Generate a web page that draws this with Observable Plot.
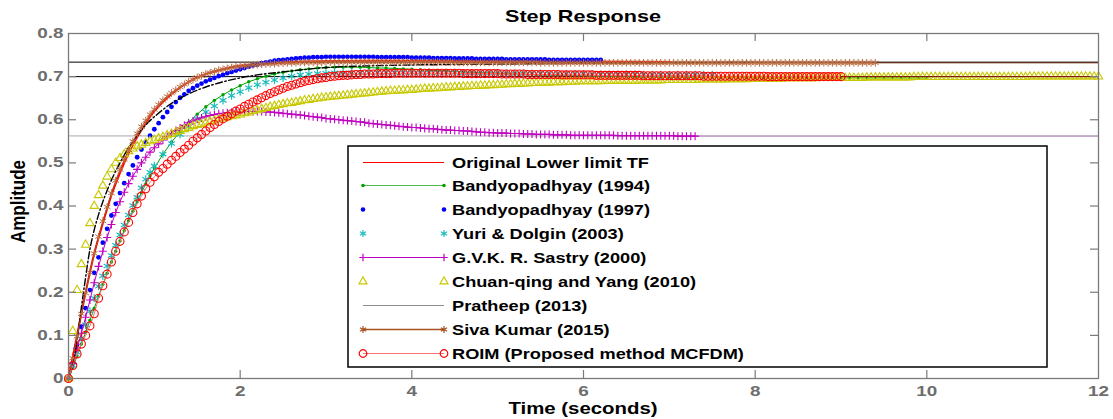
<!DOCTYPE html>
<html>
<head>
<meta charset="utf-8">
<script src="https://cdn.jsdelivr.net/npm/d3@7"></script>
<script src="https://cdn.jsdelivr.net/npm/@observablehq/plot@0.6"></script>
<style>
  html, body { margin: 0; padding: 0; background: #ffffff; }
  #chart svg { display: block; }
</style>
</head>
<body>
<div id="chart"></div>
<script>
// ---- Step-response samples (amplitude), one array per model ----
// Densely sampled models: one value every 0.05 s from t = 0.
const roim = [
  0,.03,.057,.08,.1,.122,.15,.186,.215,.242,.27,.295,.318,.34,.362,.385,.405,.423,.44,.455,
  .468,.478,.487,.497,.506,.515,.524,.532,.541,.55,.558,.566,.574,.582,.589,.596,.602,.608,.614,.62,
  .625,.631,.636,.641,.646,.651,.656,.661,.665,.669,.673,.677,.68,.683,.686,.689,.691,.693,.695,.697,
  .698,.7,.701,.702,.703,.703,.704,.705,.705,.706,.706,.706,.707,.707,.707,.707,.708,.708,.708,.708,
  .708,.708,.708,.708,.708,.708,.708,.708,.708,.708,.708,.708,.707,.707,.707,.707,.707,.707,.707,.707,
  .707,.706,.706,.706,.706,.706,.706,.705,.705,.705,.705,.705,.705,.705,.705,.704,.704,.704,.704,.704,
  .704,.704,.704,.703,.703,.703,.703,.703,.703,.703,.703,.703,.703,.703,.702,.702,.702,.702,.702,.702,
  .702,.702,.702,.702,.702,.702,.702,.702,.701,.701,.701,.701,.701,.701,.701,.701,.701,.701,.701,.701,
  .701,.701,.701,.700,.700,.700,.700,.700,.700,.700,.700,.700,.700,.700,.700,.700,.700,.700,.700,.700,
  .700];

const bandyo1997 = [
  0,.035,.078,.12,.163,.205,.245,.281,.315,.347,.378,.405,.43,.453,.474,.494,.513,.531,.548,.563,
  .578,.592,.606,.618,.63,.641,.651,.659,.667,.673,.679,.684,.689,.693,.697,.701,.704,.708,.711,.714,
  .717,.72,.723,.726,.728,.731,.733,.735,.737,.738,.739,.74,.741,.742,.743,.744,.744,.745,.745,.745,
  .746,.746,.746,.746,.746,.746,.746,.746,.746,.746,.746,.746,.745,.745,.745,.745,.745,.745,.745,.745,
  .744,.744,.744,.744,.744,.743,.743,.743,.743,.743,.742,.742,.742,.742,.742,.741,.741,.741,.741,.741,
  .741,.741,.740,.740,.740,.740,.740,.740,.740,.740,.740,.740,.739,.739,.739,.739,.739,.739,.739,.739,
  .739,.739,.739,.739,.739];

const sastry = [
  0,.035,.07,.105,.142,.182,.222,.26,.295,.327,.357,.385,.41,.432,.452,.469,.485,.5,.513,.525,
  .535,.544,.553,.561,.568,.575,.581,.587,.593,.597,.601,.604,.607,.61,.612,.614,.615,.616,.617,.618,
  .618,.619,.619,.619,.619,.619,.618,.618,.617,.616,.615,.614,.613,.612,.611,.61,.608,.607,.606,.605,
  .603,.602,.601,.6,.599,.598,.597,.596,.595,.594,.592,.591,.59,.589,.588,.587,.586,.585,.584,.583,
  .582,.582,.581,.58,.579,.579,.578,.577,.576,.576,.575,.575,.574,.574,.573,.572,.571,.571,.570,.570,
  .569,.569,.569,.568,.568,.568,.567,.567,.567,.566,.566,.566,.566,.565,.565,.565,.565,.564,.564,.564,
  .564,.564,.564,.564,.564,.564,.564,.564,.563,.563,.563,.563,.563,.563,.563,.563,.563,.563,.563,.563,
  .563,.563,.562,.562,.562,.562,.562];

const chuanYang = [
  0,.11,.205,.265,.31,.36,.40,.425,.447,.468,.485,.5,.511,.52,.527,.533,.538,.542,.546,.55,
  .553,.557,.56,.564,.567,.571,.574,.578,.581,.585,.588,.59,.593,.596,.598,.601,.603,.606,.608,.61,
  .612,.615,.617,.62,.622,.625,.627,.63,.632,.634,.636,.638,.639,.641,.643,.645,.646,.648,.649,.651,
  .652,.653,.654,.655,.656,.657,.658,.659,.66,.661,.662,.663,.664,.665,.666,.667,.667,.668,.668,.669,
  .669,.67,.671,.672,.672,.673,.673,.674,.675,.675,.676,.676,.677,.677,.678,.678,.679,.679,.68,.68,
  .681,.681,.682,.682,.683,.683,.684,.684,.685,.685,.686,.686,.686,.687,.687,.687,.688,.688,.688,.689,
  .689,.689,.689,.689,.689,.69,.69,.69,.69,.69,.69,.69,.69,.691,.691,.691,.691,.691,.691,.692,
  .692,.692,.692,.692,.692,.692,.692,.693,.693,.693,.693,.693,.693,.693,.694,.694,.694,.694,.694,.695,
  .695,.695,.695,.695,.695,.695,.695,.696,.696,.696,.696,.696,.696,.696,.696,.697,.697,.697,.697,.697,
  .697,.697,.697,.697,.697,.697,.698,.698,.698,.698,.698,.698,.698,.698,.698,.698,.698,.699,.699,.699,
  .699,.699,.699,.699,.699,.699,.699,.699,.699,.699,.699,.699,.699,.699,.699,.699,.699,.699,.699,.699,
  .699,.699,.699,.699,.7,.7,.7,.7,.7,.7,.7,.7,.7,.7,.7,.7,.7,.7,.7,.7,
  .7];

const sivaKumar = [
  0,.047,.098,.15,.198,.246,.29,.329,.365,.398,.43,.459,.485,.508,.53,.55,.568,.584,.598,.612,
  .624,.635,.645,.654,.662,.669,.676,.682,.688,.693,.698,.702,.706,.709,.712,.715,.717,.719,.721,.723,
  .724,.725,.726,.727,.728,.729,.729,.73,.73,.731,.731,.732,.732,.732,.733,.733,.733,.733,.733,.733,
  .734,.734,.734,.734,.734,.734,.734,.734,.734,.734,.734,.734,.734,.734,.734,.734,.734,.734,.734,.734,
  .734,.734,.734,.734,.734,.734,.734,.734,.734,.734,.733,.733,.733,.733,.733,.733,.733,.733,.733,.733,
  .733,.733,.733,.733,.733,.733,.733,.733,.733,.733,.732,.732,.732,.732,.732,.732,.732,.732,.732,.732,
  .732,.732,.732,.732,.732,.732,.732,.732,.732,.732,.732,.732,.732,.732,.732,.732,.732,.732,.732,.732,
  .732,.732,.732,.732,.732,.732,.732,.732,.732,.732,.732,.732,.732,.732,.732,.732,.732,.732,.732,.732,
  .732,.732,.732,.732,.732,.732,.732,.732,.732,.732,.732,.732,.732,.732,.732,.732,.732,.732,.732,.732,
  .732,.732,.732,.732,.732,.732,.732,.732,.732];

// Lighter-sampled models: every 0.05 s up to 1 s, then every 0.1 s.
const bandyo1994 = [0,.025,.052,.08,.108,.135,.163,.191,.218,.244,.27,.295,.319,.343,.366,.388,.41,.431,.451,.47,.488,
  .52,.548,.572,.594,.613,.63,.645,.658,.669,.679,
  .688,.695,.701,.706,.71,.713,.716,.718,.72,.721,
  .722,.722,.722,.722,.721,.72,.72,.719,.718,.717,
  .716,.715,.714,.713,.712,.711,.71,.709,.709,.708,
  .707,.706,.706,.705,.704,.704,.703,.703,.702,.702,
  .701,.701,.700,.700,.700,.699,.699,.699,.699,.698,
  .698,.698,.698,.698,.698,.698,.698,.698,.698,.698,
  .697,.697,.697,.697,.697,.697,.697,.697,.697,.697,
  .697,.697,.697,.697,.697,.697,.697,.697,.697,.697];

const yuriDolgin = [0,.03,.061,.092,.124,.156,.186,.214,.238,.261,.285,.309,.333,.356,.379,.401,.42,.442,.462,.478,.493,
  .52,.545,.566,.585,.602,.618,.632,.645,.656,.665,
  .674,.681,.687,.692,.697,.701,.704,.706,.707,.708,
  .709,.709,.709,.709,.709,.709,.709,.709,.709,.709,
  .709,.709,.709,.709,.709,.708,.708,.708,.708,.708,
  .707,.707,.707,.707,.707,.706,.706,.706,.706,.706,
  .705,.705,.705,.705,.705,.705,.704,.704,.704,.704,
  .704,.704,.704,.704,.704];

// Line-only curves, given as (time, amplitude) pairs
const originalT = [0,0.1,0.2,0.3,0.4,0.5,0.6,0.7,0.8,1.0,1.2,1.4,1.6,1.8,2.0,2.5,3.0,3.5,4,5,6,7];
const originalV = [0,0.1,0.2,0.29,0.36,0.425,0.477,0.522,0.56,0.62,0.66,0.688,0.706,0.717,0.725,0.733,0.736,0.737,0.737,0.736,0.735,0.734];
const pratheepT = [0,0.05,0.1,0.15,0.2,0.25,0.3,0.35,0.4,0.5,0.6,0.7,0.8,0.9,1.0,1.2,1.4,1.6,1.8,2.0,2.2,2.5,3.0,3.5,4,5,6,7,8];
const pratheepV = [0,0.03,0.09,0.165,0.235,0.3,0.345,0.38,0.41,0.46,0.5,0.535,0.563,0.588,0.607,0.638,0.66,0.676,0.688,0.697,0.704,0.711,0.721,0.725,0.727,0.729,0.731,0.732,0.733];

// Steady-state reference levels
const upperLevel = 0.7336;
const lowerLevel = 0.70;
const sastryLevel = 0.5625;

// Axis ticks and labels
const xTicks = [0, 2, 4, 6, 8, 10, 12];
const yTicks = [0, 0.1, 0.2, 0.3, 0.4, 0.5, 0.6, 0.7, 0.8];
const legendLabels = [
  "Original Lower limit TF",
  "Bandyopadhyay (1994)",
  "Bandyopadhyay (1997)",
  "Yuri & Dolgin (2003)",
  "G.V.K. R. Sastry (2000)",
  "Chuan-qing and Yang (2010)",
  "Pratheep (2013)",
  "Siva Kumar (2015)",
  "ROIM (Proposed method MCFDM)"
];
const titleText = "Step Response";
const xLabel = "Time (seconds)";
const yLabel = "Amplitude";

// ---- sampling grids ----
const fineStep = 0.05, coarseStep = 0.1;
const dense = values => values.map((v, i) => ({t: +(i * fineStep).toFixed(2), v}));
const mixed = (values, fineCount = 20) => values.map((v, i) => ({
  t: +(i <= fineCount ? i * fineStep : fineCount * fineStep + (i - fineCount) * coarseStep).toFixed(2), v
}));
const pairs = (ts, vs) => ts.map((t, i) => ({t, v: vs[i]}));
const last = rows => rows[rows.length - 1];

const roimRows = dense(roim);
const b97Rows = dense(bandyo1997);
const sastryRows = dense(sastry);
const chuanRows = dense(chuanYang);
const sivaRows = dense(sivaKumar);
const b94Rows = mixed(bandyo1994);
const yuriRows = mixed(yuriDolgin);
const originalRows = pairs(originalT, originalV);
const pratheepRows = pairs(pratheepT, pratheepV);

// ---- colours ----
const C = {
  red: "#ff0000", green: "#00a000", blue: "#0000ff", cyan: "#20bcbc",
  magenta: "#c000c0", yellow: "#c8c800", black: "#000000", brown: "#a8501e", grey: "#8c8c8c"
};

const W = 1113, H = 419;
const M = {top: 33, right: 15, bottom: 41, left: 68};
const plotW = W - M.left - M.right, plotH = H - M.top - M.bottom;
const tick = 8;
const axisGrey = "#7a7a7a";
const tMax = 12;

// a line that carries a model on at its last value to the end of the time axis
const settleTail = (rows, stroke) =>
  Plot.ruleY([last(rows)], {y: "v", x1: "t", x2: () => tMax, stroke, strokeWidth: 1});

const chart = Plot.plot({
  width: W, height: H,
  marginTop: M.top, marginRight: M.right, marginBottom: M.bottom, marginLeft: M.left,
  x: {domain: [0, tMax]},
  y: {domain: [0, 0.8]},
  style: {fontFamily: "Arial, 'Liberation Sans', sans-serif", fontSize: "14px", fontWeight: "bold", background: "#ffffff", overflow: "visible"},
  marks: [
    // steady-state levels
    Plot.ruleY([upperLevel, lowerLevel], {stroke: C.black, strokeWidth: 1}),
    Plot.ruleY([sastryLevel], {stroke: "#a8a8a8", strokeWidth: 1}),

    // Original lower-limit transfer function: solid red
    Plot.line(originalRows, {x: "t", y: "v", curve: "catmull-rom", stroke: C.red, strokeWidth: 2}),
    // Bandyopadhyay (1994): green dots joined by a line
    Plot.line(b94Rows, {x: "t", y: "v", stroke: C.green, strokeWidth: 1}),
    Plot.dot(b94Rows, {x: "t", y: "v", r: 1.7, fill: C.green}),
    // Bandyopadhyay (1997): blue dots
    Plot.dot(b97Rows, {x: "t", y: "v", r: 2.4, fill: C.blue}),
    // Yuri & Dolgin: cyan asterisks
    Plot.dot(yuriRows, {x: "t", y: "v", symbol: "asterisk", r: 3.8, stroke: C.cyan, strokeWidth: 1.2}),
    // Sastry: magenta plus signs on a line that carries on at its final value
    Plot.line(sastryRows, {x: "t", y: "v", stroke: C.magenta, strokeWidth: 1}),
    settleTail(sastryRows, "#b48cc0"),
    Plot.dot(sastryRows, {x: "t", y: "v", symbol: "plus", r: 2.7, stroke: C.magenta, strokeWidth: 1.1}),
    // Chuan-qing and Yang: open yellow triangles
    Plot.dot(chuanRows, {x: "t", y: "v", symbol: "triangle2", r: 4, stroke: C.yellow, fill: "none", strokeWidth: 1.1}),
    // Pratheep: black dash-dot
    Plot.line(pratheepRows, {x: "t", y: "v", curve: "catmull-rom", stroke: C.black, strokeWidth: 1.4, strokeDasharray: "7,2.5,1.5,2.5"}),
    // Siva Kumar: brown asterisks on a line
    Plot.line(sivaRows, {x: "t", y: "v", stroke: C.brown, strokeWidth: 1}),
    settleTail(sivaRows, "#6a2408"),
    Plot.dot(sivaRows, {x: "t", y: "v", symbol: "asterisk", r: 3.6, stroke: "#bc6c40", strokeWidth: 1}),
    // ROIM: open red circles on a light red line
    Plot.line(roimRows, {x: "t", y: "v", stroke: "#ff7070", strokeWidth: 1}),
    settleTail(roimRows, "#8a1010"),
    Plot.dot(roimRows, {x: "t", y: "v", r: 4, stroke: C.red, fill: "none", strokeWidth: 1.1}),

    // inward ticks on all four sides
    Plot.tickX(xTicks.slice(1, -1), {x: d => d, stroke: axisGrey, strokeWidth: 1.2, insetBottom: plotH - tick}),
    Plot.tickX(xTicks.slice(1, -1), {x: d => d, stroke: axisGrey, strokeWidth: 1.2, insetTop: plotH - tick}),
    Plot.tickY(yTicks.slice(1, -1), {y: d => d, stroke: axisGrey, strokeWidth: 1.2, insetRight: plotW - tick}),
    Plot.tickY(yTicks.slice(1, -1), {y: d => d, stroke: axisGrey, strokeWidth: 1.2, insetLeft: plotW - tick}),
    Plot.frame({stroke: axisGrey, strokeWidth: 1.3}),

    Plot.axisX({ticks: xTicks, tickSize: 0, tickPadding: 8, tickFormat: d => String(d), label: null, fill: "#6e6e6e"}),
    Plot.axisY({ticks: yTicks, tickSize: 0, tickPadding: 5, tickFormat: d => d === 0 ? "0" : d.toFixed(1), label: null, fill: "#6e6e6e"})
  ]
});

document.getElementById("chart").appendChild(chart);

const svg = d3.select(chart);
// widen tick labels the way the figure's lettering is set
svg.selectAll('[aria-label="x-axis tick label"] text, [aria-label="y-axis tick label"] text')
  .attr("transform", function () { return (this.getAttribute("transform") || "") + " scale(1.35,1)"; });

const font = "Arial, 'Liberation Sans', sans-serif";
svg.append("text").text(titleText)
  .attr("transform", `translate(${M.left + plotW / 2},22) scale(1.35,1)`)
  .attr("text-anchor", "middle").attr("font-family", font).attr("font-weight", "bold")
  .attr("font-size", 16).attr("fill", "#000");
svg.append("text").text(xLabel)
  .attr("transform", `translate(${M.left + plotW / 2},414) scale(1.2,1)`)
  .attr("text-anchor", "middle").attr("font-family", font).attr("font-weight", "bold")
  .attr("font-size", 17).attr("fill", "#000");
svg.append("text").text(yLabel)
  .attr("transform", `translate(25,${M.top + plotH / 2 - 4}) rotate(-90) scale(1,1.15)`)
  .attr("text-anchor", "middle").attr("font-family", font).attr("font-weight", "bold")
  .attr("font-size", 17).attr("fill", "#000");

// ---- legend ----
const legendStyles = [
  {line: C.red, lw: 1.2},
  {line: "#50b850", lw: 1, marker: "dot", r: 1.8, color: C.green},
  {marker: "dot", r: 2.3, color: C.blue},
  {marker: "asterisk", color: C.cyan},
  {line: C.magenta, lw: 1, marker: "plus", color: C.magenta},
  {marker: "triangle", color: C.yellow},
  {line: "#8c8c8c", lw: 1},
  {line: C.brown, lw: 1.3, marker: "asterisk", color: "#a8501e"},
  {line: "#ff7070", lw: 1, marker: "circle", color: C.red}
];
const L = {x: 348, y: 146, w: 699, h: 221, row0: 161.5, rowStep: 23.9, sx0: 363, sx1: 444, tx: 452};
const lg = svg.append("g").attr("text-anchor", "start");
lg.append("rect").attr("x", L.x).attr("y", L.y).attr("width", L.w).attr("height", L.h)
  .attr("fill", "#fff").attr("stroke", "#000").attr("stroke-width", 1.5);
const symbolFor = {
  asterisk: d3.symbol(d3.symbolAsterisk, 36),
  plus: d3.symbol(d3.symbolPlus, 20),
  triangle: d3.symbol(d3.symbolTriangle2, 45),
  circle: d3.symbol(d3.symbolCircle, 45)
};
legendLabels.forEach((label, i) => {
  const s = legendStyles[i];
  const cy = Math.round(L.row0 + i * L.rowStep) + 0.5;
  if (s.line) lg.append("line").attr("x1", L.sx0).attr("x2", L.sx1).attr("y1", cy).attr("y2", cy)
    .attr("stroke", s.line).attr("stroke-width", s.lw);
  if (s.marker) [L.sx0, L.sx1].forEach(x => {
    if (s.marker === "dot") lg.append("circle").attr("cx", x).attr("cy", cy).attr("r", s.r).attr("fill", s.color);
    else lg.append("path").attr("d", symbolFor[s.marker]()).attr("transform", `translate(${x},${cy})`)
      .attr("fill", "none").attr("stroke", s.color).attr("stroke-width", 1.2);
  });
  lg.append("text").text(label)
    .attr("text-anchor", "start")
    .attr("transform", `translate(${L.tx},${cy + 5}) scale(1.3,1)`)
    .attr("font-family", font).attr("font-weight", "bold").attr("font-size", 14).attr("fill", "#000");
});
</script>
</body>
</html>
